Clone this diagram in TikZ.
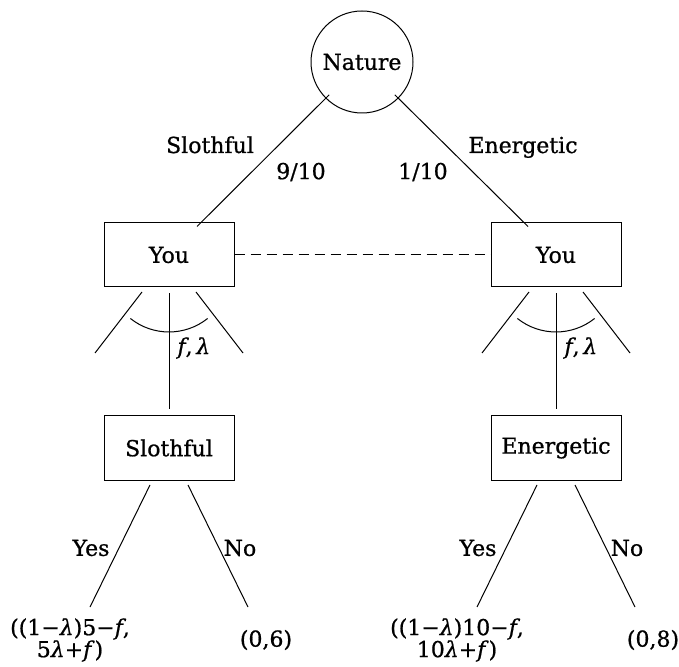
\documentclass[tikz,border=0pt]{standalone}
\usepackage{fontspec}
\setmainfont{DejaVu Serif}[RawFeature={embolden=0.8}]
\usetikzlibrary{calc}
\begin{document}
\begin{tikzpicture}[x=0.5pt,y=-0.5pt, line width=0.5pt,
  every node/.style={font=\fontsize{11}{13}\selectfont},
  box/.style={draw, minimum width=65pt, minimum height=32pt, inner sep=0pt},
  lab/.style={inner sep=0pt},
  pay/.style={inner sep=0pt, align=center, font=\fontsize{11}{11}\selectfont}]
\useasboundingbox (0,0) rectangle (679,667);
% nodes
\node[draw,circle,minimum size=51pt,inner sep=0pt] (nat) at (362,62) {Nature};
\node[box] (you1) at (169,255) {You};
\node[box] (you2) at (556,255) {You};
\node[box] (sl) at (169,448) {Slothful};
\node[box] (en) at (556,448) {Energetic};
% nature branches
\draw ($(nat.center)!0.9!(nat.225)$) -- ($(you1.north)+(28,4)$);
\draw ($(nat.center)!0.9!(nat.-45)$) -- ($(you2.north)+(-28,4)$);
\node[lab,anchor=base] (ls) at (210,153) {Slothful};
\node[lab,anchor=base] (le) at (523,153) {Energetic};
\node[lab] (p1) at (301,172) {9/10};
\node[lab] (p2) at (423,172) {1/10};
% information set
\draw[dash pattern=on 5pt off 3pt] (you1.east) -- (you2.west);
% choices of f, lambda
\draw ($(you1.center)+(-27,37)$) -- ($(you1.center)+(-74,98)$);
\draw ($(you1.center)+(27,37)$) -- ($(you1.center)+(74,98)$);
\draw ($(you1.south)+(0,6)$) -- ($(sl.north)+(0,-6)$);
\draw ($(you1.center)+(-38.6,63.5)$) arc[start angle=128.5,end angle=51.5,radius=62];
\node[lab,anchor=west] (fl1) at ($(you1.center)+(8,93)$) {\textit{f},\,\textit{λ}};
\draw ($(you2.center)+(-27,37)$) -- ($(you2.center)+(-74,98)$);
\draw ($(you2.center)+(27,37)$) -- ($(you2.center)+(74,98)$);
\draw ($(you2.south)+(0,6)$) -- ($(en.north)+(0,-6)$);
\draw ($(you2.center)+(-38.6,63.5)$) arc[start angle=128.5,end angle=51.5,radius=62];
\node[lab,anchor=west] (fl2) at ($(you2.center)+(8,93)$) {\textit{f},\,\textit{λ}};
% payoffs
\node[pay] (r1) at (70,640) {((1−\textit{λ})5−\textit{f},\\5\textit{λ}+\textit{f})};
\node[pay] (r2) at (266,640) {(0,6)};
\node[pay] (r3) at (457,640) {((1−\textit{λ})10−\textit{f},\\10\textit{λ}+\textit{f})};
\node[pay] (r4) at (653,640) {(0,8)};
\draw ($(sl.center)+(-19,37)$) -- ($(sl.center)+(-79,159)$);
\draw ($(sl.center)+(19,37)$) -- ($(sl.center)+(79,159)$);
\draw ($(en.center)+(-19,37)$) -- ($(en.center)+(-79,159)$);
\draw ($(en.center)+(19,37)$) -- ($(en.center)+(79,159)$);
\node[lab] (y1) at (91,548) {Yes};
\node[lab] (n1) at (240,548) {No};
\node[lab] (y2) at (478,548) {Yes};
\node[lab] (n2) at (627,548) {No};
\end{tikzpicture}
\end{document}
